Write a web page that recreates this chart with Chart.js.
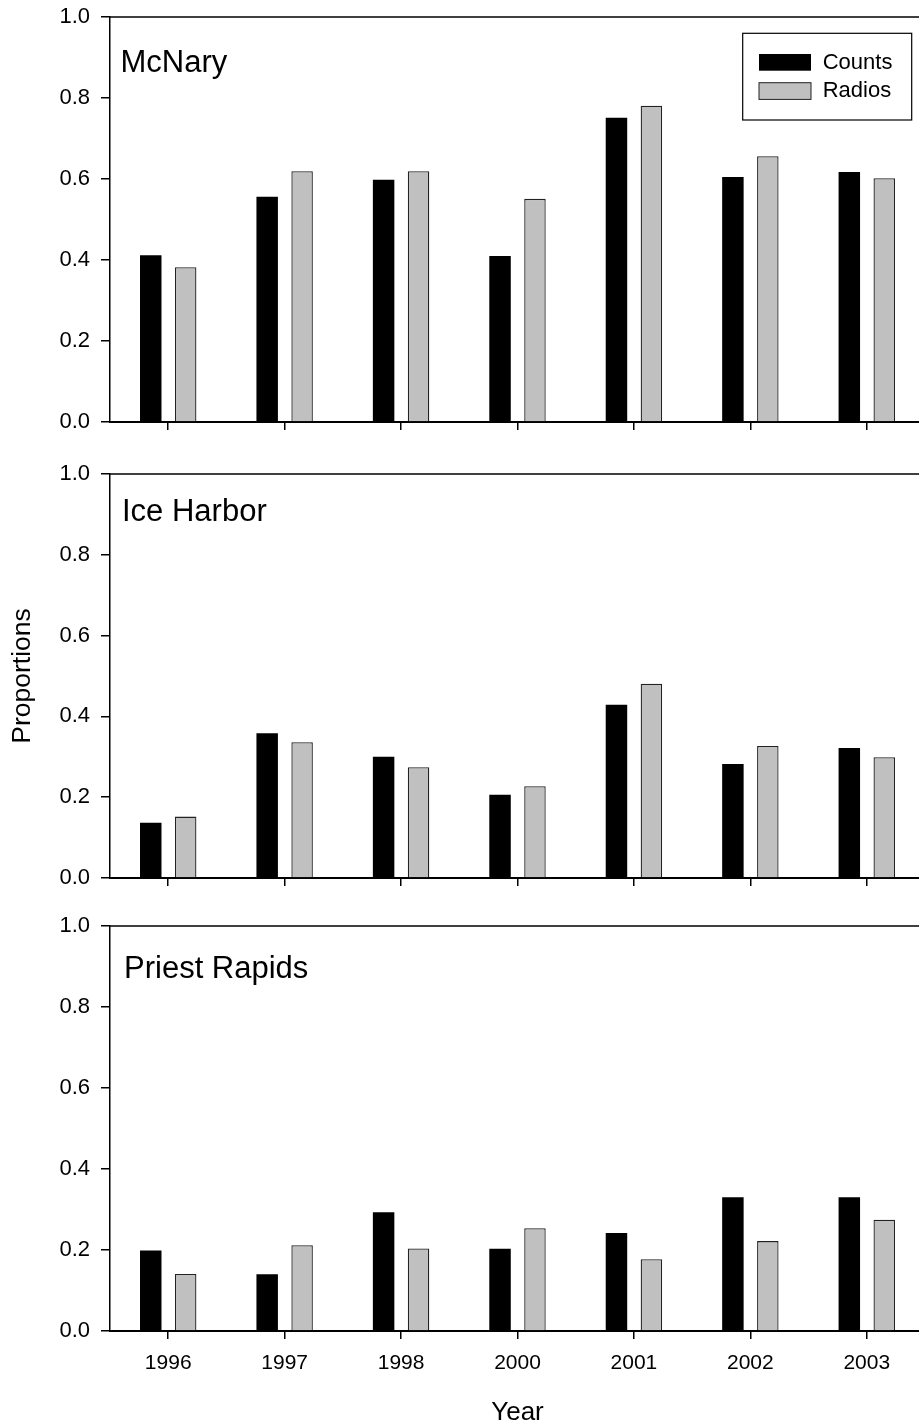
<!DOCTYPE html>
<html><head><meta charset="utf-8">
<script src="https://cdn.jsdelivr.net/npm/chart.js@4.4.1/dist/chart.umd.min.js"></script>
<style>
html,body{margin:0;padding:0;background:#fff;overflow:hidden;width:919px;height:1424px;position:relative;}
.p{position:absolute;left:0;}
canvas{display:block;}
</style></head><body>
<div class="p" id="w1"><canvas id="c1"></canvas></div>
<div class="p" id="w2"><canvas id="c2"></canvas></div>
<div class="p" id="w3"><canvas id="c3"></canvas></div>
<script>
// ---- data ----
const years = ['1996','1997','1998','2000','2001','2002','2003'];
const seriesNames = ['Counts','Radios'];
const panelNames = ['McNary','Ice Harbor','Priest Rapids'];
const yTickValues = [0.0,0.2,0.4,0.6,0.8,1.0];
const xTitle = 'Year';
const yTitle = 'Proportions';
const mcnaryCounts = [0.412,0.556,0.598,0.410,0.751,0.605,0.617];
const mcnaryRadios = [0.382,0.619,0.619,0.551,0.781,0.656,0.602];
const iceHarborCounts = [0.137,0.358,0.300,0.206,0.429,0.282,0.322];
const iceHarborRadios = [0.152,0.336,0.274,0.227,0.481,0.327,0.299];
const priestCounts = [0.199,0.140,0.293,0.203,0.242,0.330,0.330];
const priestRadios = [0.141,0.212,0.204,0.254,0.177,0.222,0.275];

// ---- styling / layout ----
const FONT = '"Liberation Sans", Arial, Helvetica, sans-serif';
Chart.defaults.font.family = FONT;
Chart.defaults.color = '#000';
const W = 925, PAD_TOP = 14, Y_AXIS_W = 110;
const layout = [
  {top:17,    bottom:422,   axisH:20,  showX:false, legend:true,  yTitle:false, dx:10.5, dy:54.5},
  {top:473.5, bottom:877.5, axisH:20,  showX:false, legend:false, yTitle:true,  dx:12,   dy:47},
  {top:925.5, bottom:1330,  axisH:100, showX:true,  legend:false, yTitle:false, dx:14,   dy:52}
];
const countsSets = [mcnaryCounts, iceHarborCounts, priestCounts];
const radiosSets = [mcnaryRadios, iceHarborRadios, priestRadios];

const panelDecor = {
  id: 'panelDecor',
  afterDraw(chart, args, opts) {
    const {ctx, chartArea: a} = chart;
    ctx.save();
    ctx.strokeStyle = '#000';
    ctx.lineWidth = 1.5;
    ctx.beginPath(); ctx.moveTo(a.left, a.top); ctx.lineTo(a.right, a.top); ctx.stroke();
    ctx.fillStyle = '#000';
    ctx.font = '31px ' + FONT;
    ctx.textAlign = 'left';
    ctx.textBaseline = 'alphabetic';
    ctx.fillText(opts.name, a.left + opts.dx, a.top + opts.dy);
    if (opts.legend) {
      const bx = a.right - 182.3, by = a.top + 16.3, bw = 169, bh = 86.7;
      ctx.lineWidth = 1.2;
      ctx.strokeRect(bx, by, bw, bh);
      ctx.font = '22px ' + FONT;
      ctx.textBaseline = 'middle';
      chart.data.datasets.forEach((ds, k) => {
        const sy = by + 20.7 + k * 28.7;
        ctx.fillStyle = ds.backgroundColor;
        ctx.fillRect(bx + 16.3, sy, 52, 16.7);
        if (ds.borderWidth) {
          ctx.strokeStyle = ds.borderColor; ctx.lineWidth = 1;
          ctx.strokeRect(bx + 16.3, sy, 52, 16.7);
        }
        ctx.fillStyle = '#000';
        ctx.fillText(ds.label, bx + 80, sy + 8.6);
      });
    }
    ctx.restore();
  }
};

function makeChart(i) {
  const L = layout[i];
  const canvas = document.getElementById('c' + (i + 1));
  const H = Math.round((L.bottom - L.top) + PAD_TOP + L.axisH);
  canvas.width = W; canvas.height = H;
  canvas.style.width = W + 'px'; canvas.style.height = H + 'px';
  canvas.parentNode.style.top = (L.top - PAD_TOP) + 'px';
  new Chart(canvas, {
    type: 'bar',
    data: {
      labels: years,
      datasets: [
        {label: seriesNames[0], data: countsSets[i], backgroundColor: '#000000', borderColor: '#000000', borderWidth: 0,
         categoryPercentage: 0.6, barPercentage: 0.615},
        {label: seriesNames[1], data: radiosSets[i], backgroundColor: '#c0c0c0', borderColor: '#222222', borderWidth: 1.3,
         categoryPercentage: 0.6, barPercentage: 0.615}
      ]
    },
    options: {
      responsive: false, animation: false, devicePixelRatio: 1,
      layout: {padding: {top: PAD_TOP, left: 0, right: 0, bottom: 0}},
      plugins: {
        legend: {display: false}, tooltip: {enabled: false}, title: {display: false},
        panelDecor: {name: panelNames[i], dx: L.dx, dy: L.dy, legend: L.legend}
      },
      scales: {
        x: {
          offset: true,
          grid: {offset: false, drawOnChartArea: false, drawTicks: true, tickLength: 8, color: '#000', lineWidth: 1.5},
          border: {display: true, color: '#000', width: 2},
          ticks: {display: L.showX, font: {size: 21}, color: '#000', padding: 12, maxRotation: 0, autoSkip: false},
          title: {display: L.showX, text: xTitle, font: {size: 26}, color: '#000', padding: {top: 0, bottom: 3}},
          afterFit(s) { s.height = L.axisH; s.paddingLeft = 0; s.paddingRight = 0; }
        },
        y: {
          min: 0, max: 1,
          afterBuildTicks(s) { s.ticks = yTickValues.map(v => ({value: v})); },
          grid: {drawOnChartArea: false, drawTicks: true, tickLength: 9, color: '#000', lineWidth: 1.5},
          border: {display: true, color: '#000', width: 1.5},
          ticks: {font: {size: 22}, color: '#000', padding: 11, callback: v => Number(v).toFixed(1)},
          title: {display: L.yTitle, text: yTitle, font: {size: 26.5}, color: '#000', padding: {top: 7, bottom: 0}},
          afterFit(s) { s.width = Y_AXIS_W; s.paddingTop = 0; s.paddingBottom = 0; }
        }
      }
    },
    plugins: [panelDecor]
  });
}
[0, 1, 2].forEach(makeChart);
</script>
</body></html>
